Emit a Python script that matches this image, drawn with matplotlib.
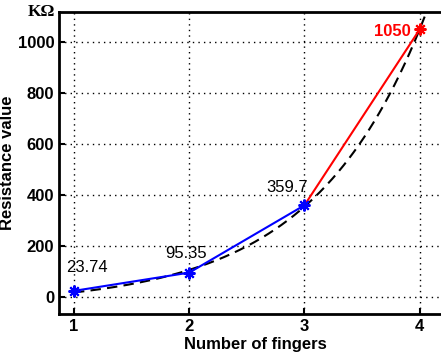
import numpy as np
import matplotlib
matplotlib.use("Agg")
import matplotlib.pyplot as plt

# Data: resistance (KOhm) vs number of fingers
fingers = np.array([1, 2, 3, 4])
resistance = np.array([23.74, 95.35, 359.7, 1050])
value_labels = ["23.74", "95.35", "359.7", "1050"]

# Exponential trend y = a*exp(b*x) + c, least squares over b, linear in a and c
best = None
for b in np.linspace(0.5, 2.5, 2001):
    A = np.column_stack([np.exp(b * fingers), np.ones_like(fingers, dtype=float)])
    coef, res, _, _ = np.linalg.lstsq(A, resistance, rcond=None)
    sse = np.sum((A @ coef - resistance) ** 2)
    if best is None or sse < best[0]:
        best = (sse, b, coef)
_, b_fit, (a_fit, c_fit) = best
x_fit = np.linspace(1, 4.3, 300)
y_fit = a_fit * np.exp(b_fit * x_fit) + c_fit

plt.rcParams['font.family'] = ['Liberation Sans', 'DejaVu Sans']

fig = plt.figure(figsize=(4.41, 3.56), dpi=100)
ax = fig.add_axes([59 / 441, 42 / 356, 393 / 441, 302 / 356])

# asterisk marker (+ and x together)
star = (8, 2, 0)

ax.plot(x_fit, y_fit, 'k--', lw=1.5, dashes=(5, 3))
ax.plot(fingers[:3], resistance[:3], '-', color='b', lw=1.5)
ax.plot(fingers[2:], resistance[2:], '-', color='r', lw=1.5)
ax.plot(fingers[:3], resistance[:3], ls='none', marker=star, color='b', ms=8.5, mew=1.5)
ax.plot(fingers[3:], resistance[3:], ls='none', marker=star, color='r', ms=8.5, mew=1.5)

# Value labels
ax.text(0.93, 114, value_labels[0], fontsize=12, ha='left', va='center')
ax.text(1.97, 172, value_labels[1], fontsize=12, ha='center', va='center')
ax.text(2.67, 431, value_labels[2], fontsize=12, ha='left', va='center')
ax.text(3.92, 1043, value_labels[3], fontsize=12, ha='right', va='center',
        color='r', fontweight='bold')

ax.set_xlim(0.87, 4.28)
ax.set_ylim(-67, 1118)
ax.set_xticks(fingers)
ax.set_yticks([0, 200, 400, 600, 800, 1000])
ax.grid(True, color='k', linestyle=(0, (1, 3)), lw=1)
ax.tick_params(direction='in', length=4, width=1.5, labelsize=12)
for lbl in ax.get_xticklabels() + ax.get_yticklabels():
    lbl.set_fontweight('bold')
for s in ax.spines.values():
    s.set_linewidth(2)

ax.set_xlabel('Number of fingers', fontsize=12, fontweight='bold', labelpad=2)
ax.set_ylabel('Resistance value', fontsize=12, fontweight='bold', labelpad=2)
fig.text(41 / 441, 1 - 12 / 356, 'KΩ', family='Liberation Serif', fontweight='bold',
         fontsize=12.5, ha='center', va='center')

fig.savefig('out.png', dpi=100)
